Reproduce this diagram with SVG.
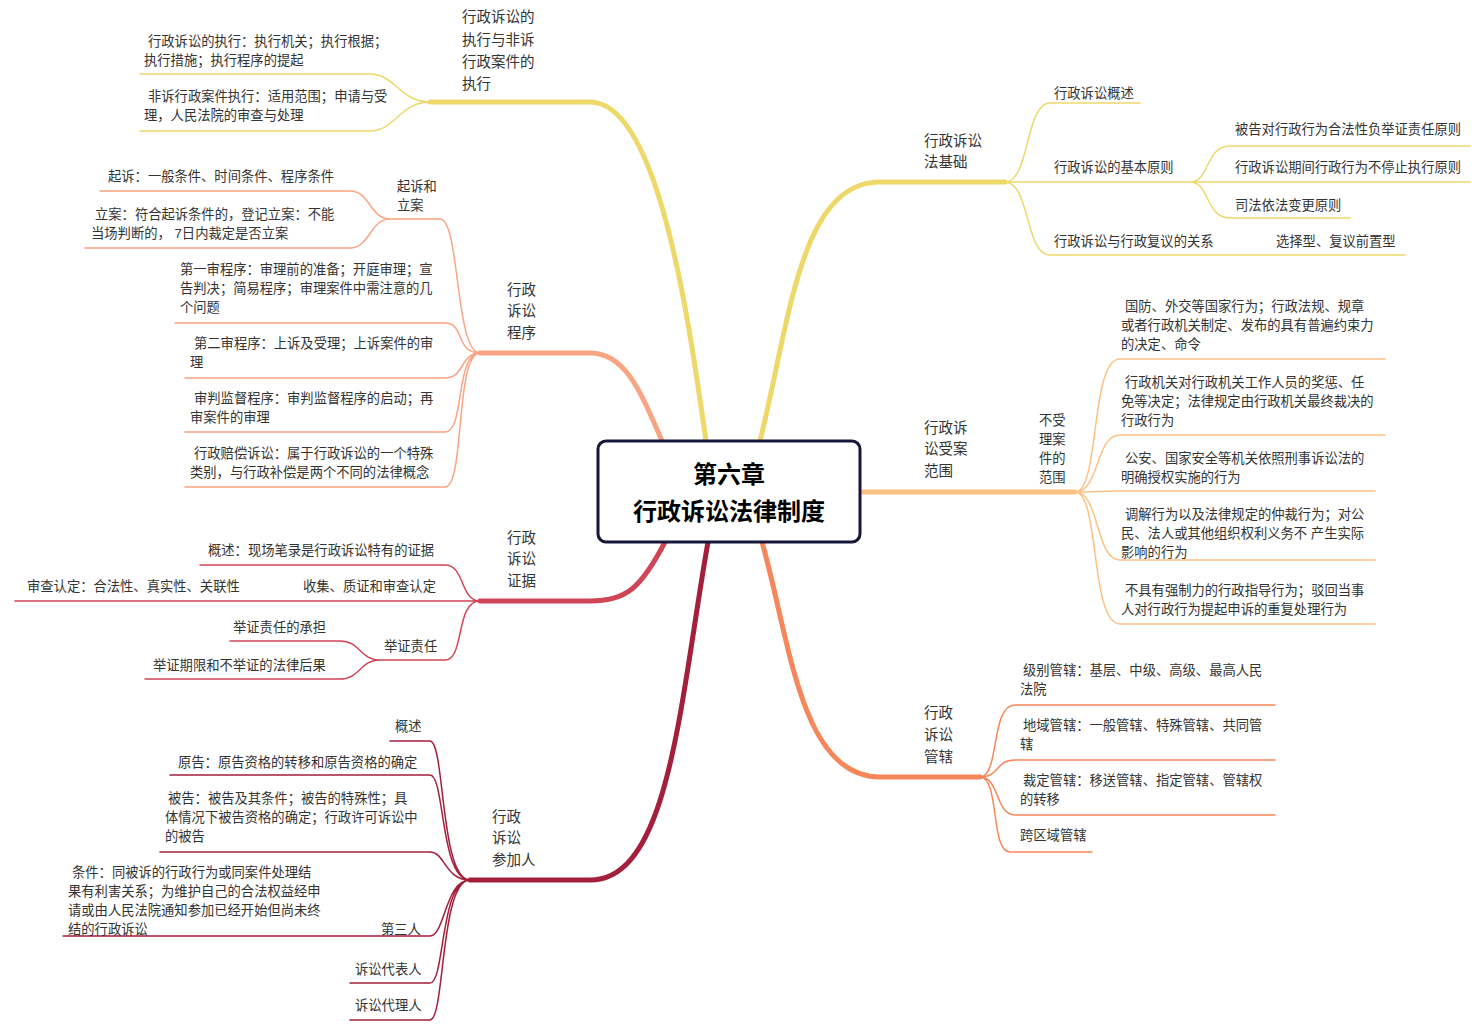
<svg xmlns="http://www.w3.org/2000/svg" width="1477" height="1028" viewBox="0 0 1477 1028">
<style>
text{font-family:"Liberation Sans","Noto Sans CJK SC",sans-serif;font-size:13.3px;fill:#333;dominant-baseline:central}
.lb{font-size:14.5px}
.c{fill:none;stroke-width:1.5;stroke-linecap:round}
.m{fill:none;stroke-width:5;stroke-linecap:round}
.y{stroke:#EED86A}.s{stroke:#F9A483}.r{stroke:#CF4555}.d{stroke:#A31F3C}.o{stroke:#FDC283}.g{stroke:#F7875A}
</style>
<rect width="1477" height="1028" fill="#fff"/>
<g id="connectors">
<path class="m y" d="M706 441 C690 330 660 102 590 102 L430 102"/>
<path class="c y" d="M430 102 C400 102 395 74 370 74 L140 74 M430 102 C400 102 395 131 370 131 L140 131"/>
<path class="m s" d="M662 441 C640 390 625 353 590 353 L480 353"/>
<path class="c s" d="M480 353 C455 353 460 219 440 219 L390 219 M390 219 C370 219 370 191 350 191 L100 191 M390 219 C370 219 370 248 350 248 L85 248 M480 353 C455 353 465 323 445 323 L175 323 M480 353 C460 353 465 378 445 378 L185 378 M480 353 C455 353 465 432 445 432 L185 432 M480 353 C455 353 465 487 445 487 L185 487"/>
<path class="m r" d="M665 542 C640 590 625 601 590 601 L480 601"/>
<path class="c r" d="M480 601 L15 601 M480 601 C460 601 465 565 445 565 L200 565 M480 601 C455 601 465 660 445 660 L380 660 M380 660 C360 660 360 641 340 641 L230 641 M380 660 C360 660 360 679 340 679 L145 679"/>
<path class="m d" d="M708 542 C680 700 670 880 590 880 L470 880"/>
<path class="c d" d="M470 880 C440 880 445 741 430 741 L390 741 M470 880 C440 880 445 775 430 775 L170 775 M470 880 C445 880 445 852 430 852 L160 852 M470 880 C445 880 445 936 430 936 L63 936 M470 880 C440 880 445 983 430 983 L350 983 M470 880 C440 880 445 1020 430 1020 L350 1020"/>
<path class="m y" d="M760 441 C790 320 800 182 880 182 L1005 182"/>
<path class="c y" d="M1005 182 C1030 182 1025 103 1050 103 L1140 103 M1005 182 L1190 182 M1190 182 C1210 182 1205 146 1230 146 L1470 146 M1190 182 L1470 182 M1190 182 C1210 182 1205 218 1230 218 L1350 218 M1005 182 C1030 182 1025 255 1050 255 L1405 255"/>
<path class="m o" d="M860 492 L1075 492"/>
<path class="c o" d="M1075 492 C1100 492 1090 359 1120 359 L1385 359 M1075 492 C1100 492 1095 435 1120 435 L1385 435 M1075 492 C1095 492 1100 491 1120 491 L1375 491 M1075 492 C1100 492 1095 560 1120 560 L1375 560 M1075 492 C1100 492 1090 624 1120 624 L1375 624"/>
<path class="m g" d="M762 542 C790 640 800 777 880 777 L980 777"/>
<path class="c g" d="M980 777 C1000 777 990 705 1015 705 L1275 705 M980 777 C1000 777 995 760 1015 760 L1275 760 M980 777 C1000 777 995 815 1015 815 L1275 815 M980 777 C1000 777 990 852 1010 852 L1092 852"/>
</g>
<g id="center">
<rect x="598" y="441" width="262" height="101" rx="8" fill="#fff" stroke="#16163a" stroke-width="3"/>
<text x="729" y="474" text-anchor="middle" style="font-size:24px;font-weight:bold;fill:#000">第六章</text>
<text x="729" y="511" text-anchor="middle" style="font-size:24px;font-weight:bold;fill:#000">行政诉讼法律制度</text>
</g>
<g id="exec">
<text class="lb" x="462" y="17">行政诉讼的</text><text class="lb" x="462" y="40">执行与非诉</text><text class="lb" x="462" y="62">行政案件的</text><text class="lb" x="462" y="84">执行</text>
<text x="148" y="41">行政诉讼的执行：执行机关；执行根据；</text><text x="144" y="60">执行措施；执行程序的提起</text>
<text x="148" y="96">非诉行政案件执行：适用范围；申请与受</text><text x="144" y="115">理，人民法院的审查与处理</text>
</g>
<g id="procedure">
<text class="lb" x="507" y="290">行政</text><text class="lb" x="507" y="311">诉讼</text><text class="lb" x="507" y="333">程序</text>
<text x="397" y="186">起诉和</text><text x="397" y="205">立案</text>
<text x="108" y="176">起诉：一般条件、时间条件、程序条件</text>
<text x="95" y="214">立案：符合起诉条件的，登记立案：不能</text><text x="91" y="233">当场判断的， 7日内裁定是否立案</text>
<text x="180" y="269">第一审程序：审理前的准备；开庭审理；宣</text><text x="180" y="288">告判决；简易程序；审理案件中需注意的几</text><text x="180" y="307">个问题</text>
<text x="194" y="343">第二审程序：上诉及受理；上诉案件的审</text><text x="190" y="362">理</text>
<text x="194" y="398">审判监督程序：审判监督程序的启动；再</text><text x="190" y="417">审案件的审理</text>
<text x="194" y="453">行政赔偿诉讼：属于行政诉讼的一个特殊</text><text x="190" y="472">类别，与行政补偿是两个不同的法律概念</text>
</g>
<g id="evidence">
<text class="lb" x="507" y="538">行政</text><text class="lb" x="507" y="559">诉讼</text><text class="lb" x="507" y="581">证据</text>
<text x="208" y="550">概述：现场笔录是行政诉讼特有的证据</text>
<text x="303" y="586">收集、质证和审查认定</text>
<text x="27" y="586">审查认定：合法性、真实性、关联性</text>
<text x="384" y="646">举证责任</text>
<text x="233" y="627">举证责任的承担</text>
<text x="153" y="665">举证期限和不举证的法律后果</text>
</g>
<g id="participants">
<text class="lb" x="492" y="817">行政</text><text class="lb" x="492" y="838">诉讼</text><text class="lb" x="492" y="860">参加人</text>
<text x="395" y="726">概述</text>
<text x="178" y="762">原告：原告资格的转移和原告资格的确定</text>
<text x="168" y="798">被告：被告及其条件；被告的特殊性；具</text><text x="165" y="817">体情况下被告资格的确定；行政许可诉讼中</text><text x="165" y="836">的被告</text>
<text x="72" y="872">条件：同被诉的行政行为或同案件处理结</text><text x="68" y="891">果有利害关系；为维护自己的合法权益经申</text><text x="68" y="910">请或由人民法院通知参加已经开始但尚未终</text><text x="68" y="929">结的行政诉讼</text>
<text x="381" y="929">第三人</text>
<text x="355" y="969">诉讼代表人</text>
<text x="355" y="1005">诉讼代理人</text>
</g>
<g id="basis">
<text class="lb" x="924" y="141">行政诉讼</text><text class="lb" x="924" y="162">法基础</text>
<text x="1054" y="93">行政诉讼概述</text>
<text x="1054" y="167">行政诉讼的基本原则</text>
<text x="1235" y="129">被告对行政行为合法性负举证责任原则</text>
<text x="1235" y="167">行政诉讼期间行政行为不停止执行原则</text>
<text x="1235" y="205">司法依法变更原则</text>
<text x="1054" y="241">行政诉讼与行政复议的关系</text>
<text x="1276" y="241">选择型、复议前置型</text>
</g>
<g id="scope">
<text class="lb" x="924" y="428">行政诉</text><text class="lb" x="924" y="449">讼受案</text><text class="lb" x="924" y="471">范围</text>
<text x="1039" y="420">不受</text><text x="1039" y="439">理案</text><text x="1039" y="458">件的</text><text x="1039" y="477">范围</text>
<text x="1125" y="306">国防、外交等国家行为；行政法规、规章</text><text x="1121" y="325">或者行政机关制定、发布的具有普遍约束力</text><text x="1121" y="344">的决定、命令</text>
<text x="1125" y="382">行政机关对行政机关工作人员的奖惩、任</text><text x="1121" y="401">免等决定；法律规定由行政机关最终裁决的</text><text x="1121" y="420">行政行为</text>
<text x="1125" y="458">公安、国家安全等机关依照刑事诉讼法的</text><text x="1121" y="477">明确授权实施的行为</text>
<text x="1125" y="514">调解行为以及法律规定的仲裁行为；对公</text><text x="1121" y="533">民、法人或其他组织权利义务不 产生实际</text><text x="1121" y="552">影响的行为</text>
<text x="1125" y="590">不具有强制力的行政指导行为；驳回当事</text><text x="1121" y="609">人对行政行为提起申诉的重复处理行为</text>
</g>
<g id="jurisdiction">
<text class="lb" x="924" y="713">行政</text><text class="lb" x="924" y="735">诉讼</text><text class="lb" x="924" y="757">管辖</text>
<text x="1023" y="670">级别管辖：基层、中级、高级、最高人民</text><text x="1020" y="689">法院</text>
<text x="1023" y="725">地域管辖：一般管辖、特殊管辖、共同管</text><text x="1020" y="744">辖</text>
<text x="1023" y="780">裁定管辖：移送管辖、指定管辖、管辖权</text><text x="1020" y="799">的转移</text>
<text x="1020" y="835">跨区域管辖</text>
</g>
</svg>
